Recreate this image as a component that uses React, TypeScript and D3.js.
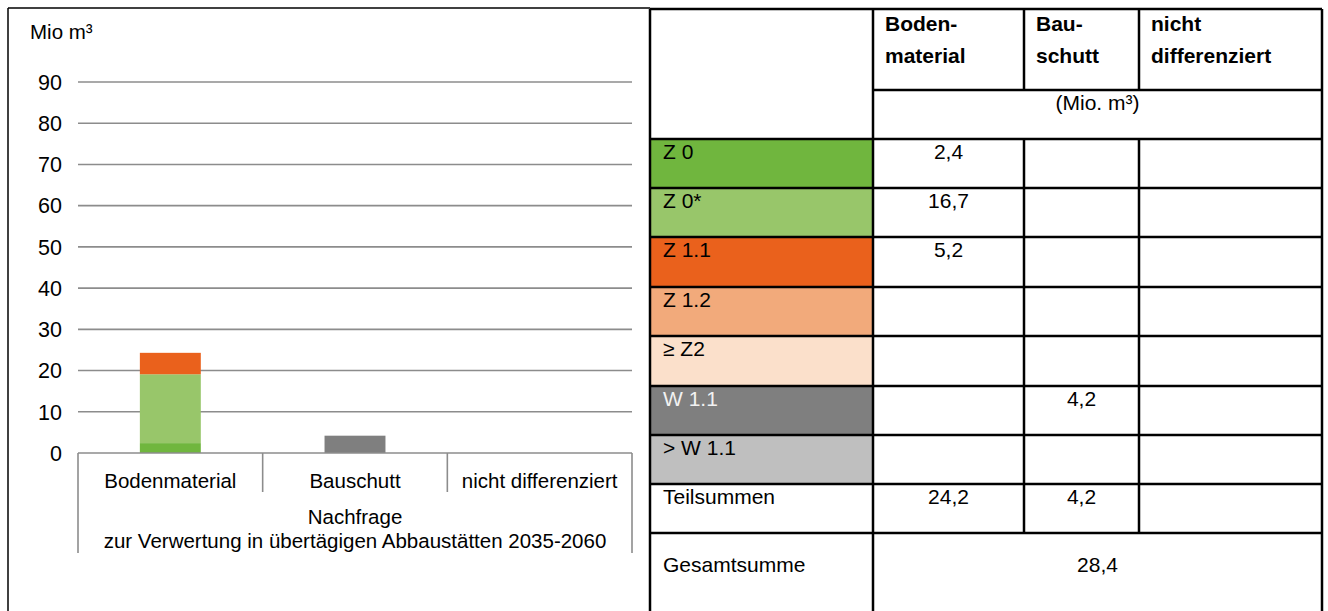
import React from "react";
import * as d3 from "d3";

const categories = ["Bodenmaterial", "Bauschutt", "nicht differenziert"];
const groupLabel = ["Nachfrage", "zur Verwertung in übertägigen Abbaustätten 2035-2060"];
const classes = ["Z 0", "Z 0*", "Z 1.1", "Z 1.2", "≥ Z2", "W 1.1", "> W 1.1"];
const classColors = ["#70B63E", "#98C66A", "#EA611C", "#F2AA7B", "#FBE0CB", "#7F7F7F", "#BFBFBF"];
const classTextColors = ["#000", "#000", "#000", "#000", "#000", "#f2f2f2", "#000"];
const bodenValues = [2.4, 16.7, 5.2, 0, 0, 0, 0];
const bauschuttValues = [0, 0, 0, 0, 0, 4.2, 0];
const nichtDiffValues = [0, 0, 0, 0, 0, 0, 0];
const subtotals = ["24,2", "4,2", ""];
const grandTotal = "28,4";
const yTicks = [0, 10, 20, 30, 40, 50, 60, 70, 80, 90];
const colHeaders = [["Boden-", "material"], ["Bau-", "schutt"], ["nicht", "differenziert"]];
const unitLabel = "(Mio. m³)";
const yUnit = "Mio m³";

const FONT = "'Liberation Sans', Arial, sans-serif";

export default function App() {
  const W = 1328, H = 611;
  const plotL = 78, plotR = 632;
  const y = d3.scaleLinear().domain([0, 90]).range([453, 82]);
  const x = d3.scaleBand().domain(categories).range([plotL, plotR]).paddingInner(0).paddingOuter(0);
  const barW = x.bandwidth() * 0.33;

  const seriesByCat = [bodenValues, bauschuttValues, nichtDiffValues];
  const rows = categories.map((c, ci) => {
    const o: any = { cat: c };
    classes.forEach((k, ki) => (o[k] = seriesByCat[ci][ki]));
    return o;
  });
  const stack = d3.stack().keys(classes)(rows as any);

  const fmt = (v: number) => (v ? d3.format(".1f")(v).replace(".", ",") : "");

  const colX = [650, 873, 1024, 1139, 1322];
  const rowY = [9, 90, 139, 188, 237, 287, 336, 386, 435, 484, 533, 640];
  const lineColor = "#000";
  const TF = 21;
  const CF = 20.5;

  const tableText: any[] = [];
  colHeaders.forEach((lines, i) => {
    lines.forEach((t, li) => {
      tableText.push(
        <text key={`h${i}${li}`} x={colX[i + 1] + 12} y={31 + li * 32} fontWeight="bold" fontSize={TF}>{t}</text>
      );
    });
  });

  return (
    <svg width={W} height={H} style={{ position: "absolute", left: 0, top: 0 }} fontFamily={FONT}>
      <rect width={W} height={H} fill="#fff" />
      <line x1={8} x2={8} y1={8} y2={H} stroke="#000" strokeWidth={1.5} />
      <line x1={8} x2={650} y1={8} y2={8} stroke="#000" strokeWidth={1.5} />
      <text x={30} y={39} fontSize={CF}>{yUnit}</text>
      {yTicks.map((t) => (
        <g key={t}>
          {t > 0 && <line x1={plotL} x2={plotR} y1={y(t)} y2={y(t)} stroke="#8c8c8c" strokeWidth={1.6} />}
          <text x={62} y={y(t)} dy="0.36em" textAnchor="end" fontSize={21.5}>{t}</text>
        </g>
      ))}
      {stack.map((s, si) => (
        <g key={si} fill={classColors[si]}>
          {s.map((d: any, di: number) =>
            d[1] - d[0] > 0 ? (
              <rect key={di} x={(x(categories[di]) as number) + (x.bandwidth() - barW) / 2} width={barW}
                y={y(d[1])} height={y(d[0]) - y(d[1])} />
            ) : null
          )}
        </g>
      ))}
      <line x1={plotL} x2={plotR} y1={y(0)} y2={y(0)} stroke="#8c8c8c" strokeWidth={1.6} />
      {categories.map((c, i) => (
        <g key={c}>
          <line x1={x(c) as number} x2={x(c) as number} y1={y(0)} y2={i === 0 ? 553 : 492} stroke="#8c8c8c" strokeWidth={1.6} />
          <text x={(x(c) as number) + x.bandwidth() / 2} y={488} textAnchor="middle" fontSize={CF}>{c}</text>
        </g>
      ))}
      <line x1={plotR} x2={plotR} y1={y(0)} y2={553} stroke="#8c8c8c" strokeWidth={1.6} />
      <text x={(plotL + plotR) / 2} y={524} textAnchor="middle" fontSize={CF}>{groupLabel[0]}</text>
      <text x={(plotL + plotR) / 2} y={548} textAnchor="middle" fontSize={CF}>{groupLabel[1]}</text>

      {classes.map((k, i) => (
        <rect key={k} x={colX[0]} y={rowY[i + 2]} width={colX[1] - colX[0]} height={rowY[i + 3] - rowY[i + 2]} fill={classColors[i]} />
      ))}
      {classes.map((k, i) => (
        <text key={"l" + k} x={colX[0] + 13} y={rowY[i + 2] + 20} fontSize={TF} fill={classTextColors[i]}>{k}</text>
      ))}
      {seriesByCat.map((vals, ci) =>
        vals.map((v, ri) =>
          v ? (
            <text key={`v${ci}${ri}`} x={(colX[ci + 1] + colX[ci + 2]) / 2} y={rowY[ri + 2] + 20} textAnchor="middle" fontSize={TF}>{fmt(v)}</text>
          ) : null
        )
      )}
      <text x={colX[0] + 13} y={rowY[9] + 20} fontSize={TF}>Teilsummen</text>
      {subtotals.map((s, i) => (
        <text key={"s" + i} x={(colX[i + 1] + colX[i + 2]) / 2} y={rowY[9] + 20} textAnchor="middle" fontSize={TF}>{s}</text>
      ))}
      <text x={colX[0] + 13} y={rowY[10] + 39} fontSize={TF}>Gesamtsumme</text>
      <text x={(colX[1] + colX[4]) / 2} y={rowY[10] + 39} textAnchor="middle" fontSize={TF}>{grandTotal}</text>
      <text x={(colX[1] + colX[4]) / 2} y={110} textAnchor="middle" fontSize={TF}>{unitLabel}</text>
      {tableText}

      <g stroke={lineColor} strokeWidth={2.5}>
        <line x1={colX[0]} x2={colX[4]} y1={rowY[0]} y2={rowY[0]} />
        <line x1={colX[1]} x2={colX[4]} y1={rowY[1]} y2={rowY[1]} />
        {rowY.slice(2, 11).map((ry, i) => (
          <line key={i} x1={colX[0]} x2={colX[4]} y1={ry} y2={ry} />
        ))}
        <line x1={colX[0]} x2={colX[0]} y1={rowY[0]} y2={H} />
        <line x1={colX[1]} x2={colX[1]} y1={rowY[0]} y2={H} />
        <line x1={colX[2]} x2={colX[2]} y1={rowY[0]} y2={rowY[1]} />
        <line x1={colX[3]} x2={colX[3]} y1={rowY[0]} y2={rowY[1]} />
        <line x1={colX[2]} x2={colX[2]} y1={rowY[2]} y2={rowY[10]} />
        <line x1={colX[3]} x2={colX[3]} y1={rowY[2]} y2={rowY[10]} />
        <line x1={colX[4]} x2={colX[4]} y1={rowY[0]} y2={H} />
      </g>
    </svg>
  );
}
